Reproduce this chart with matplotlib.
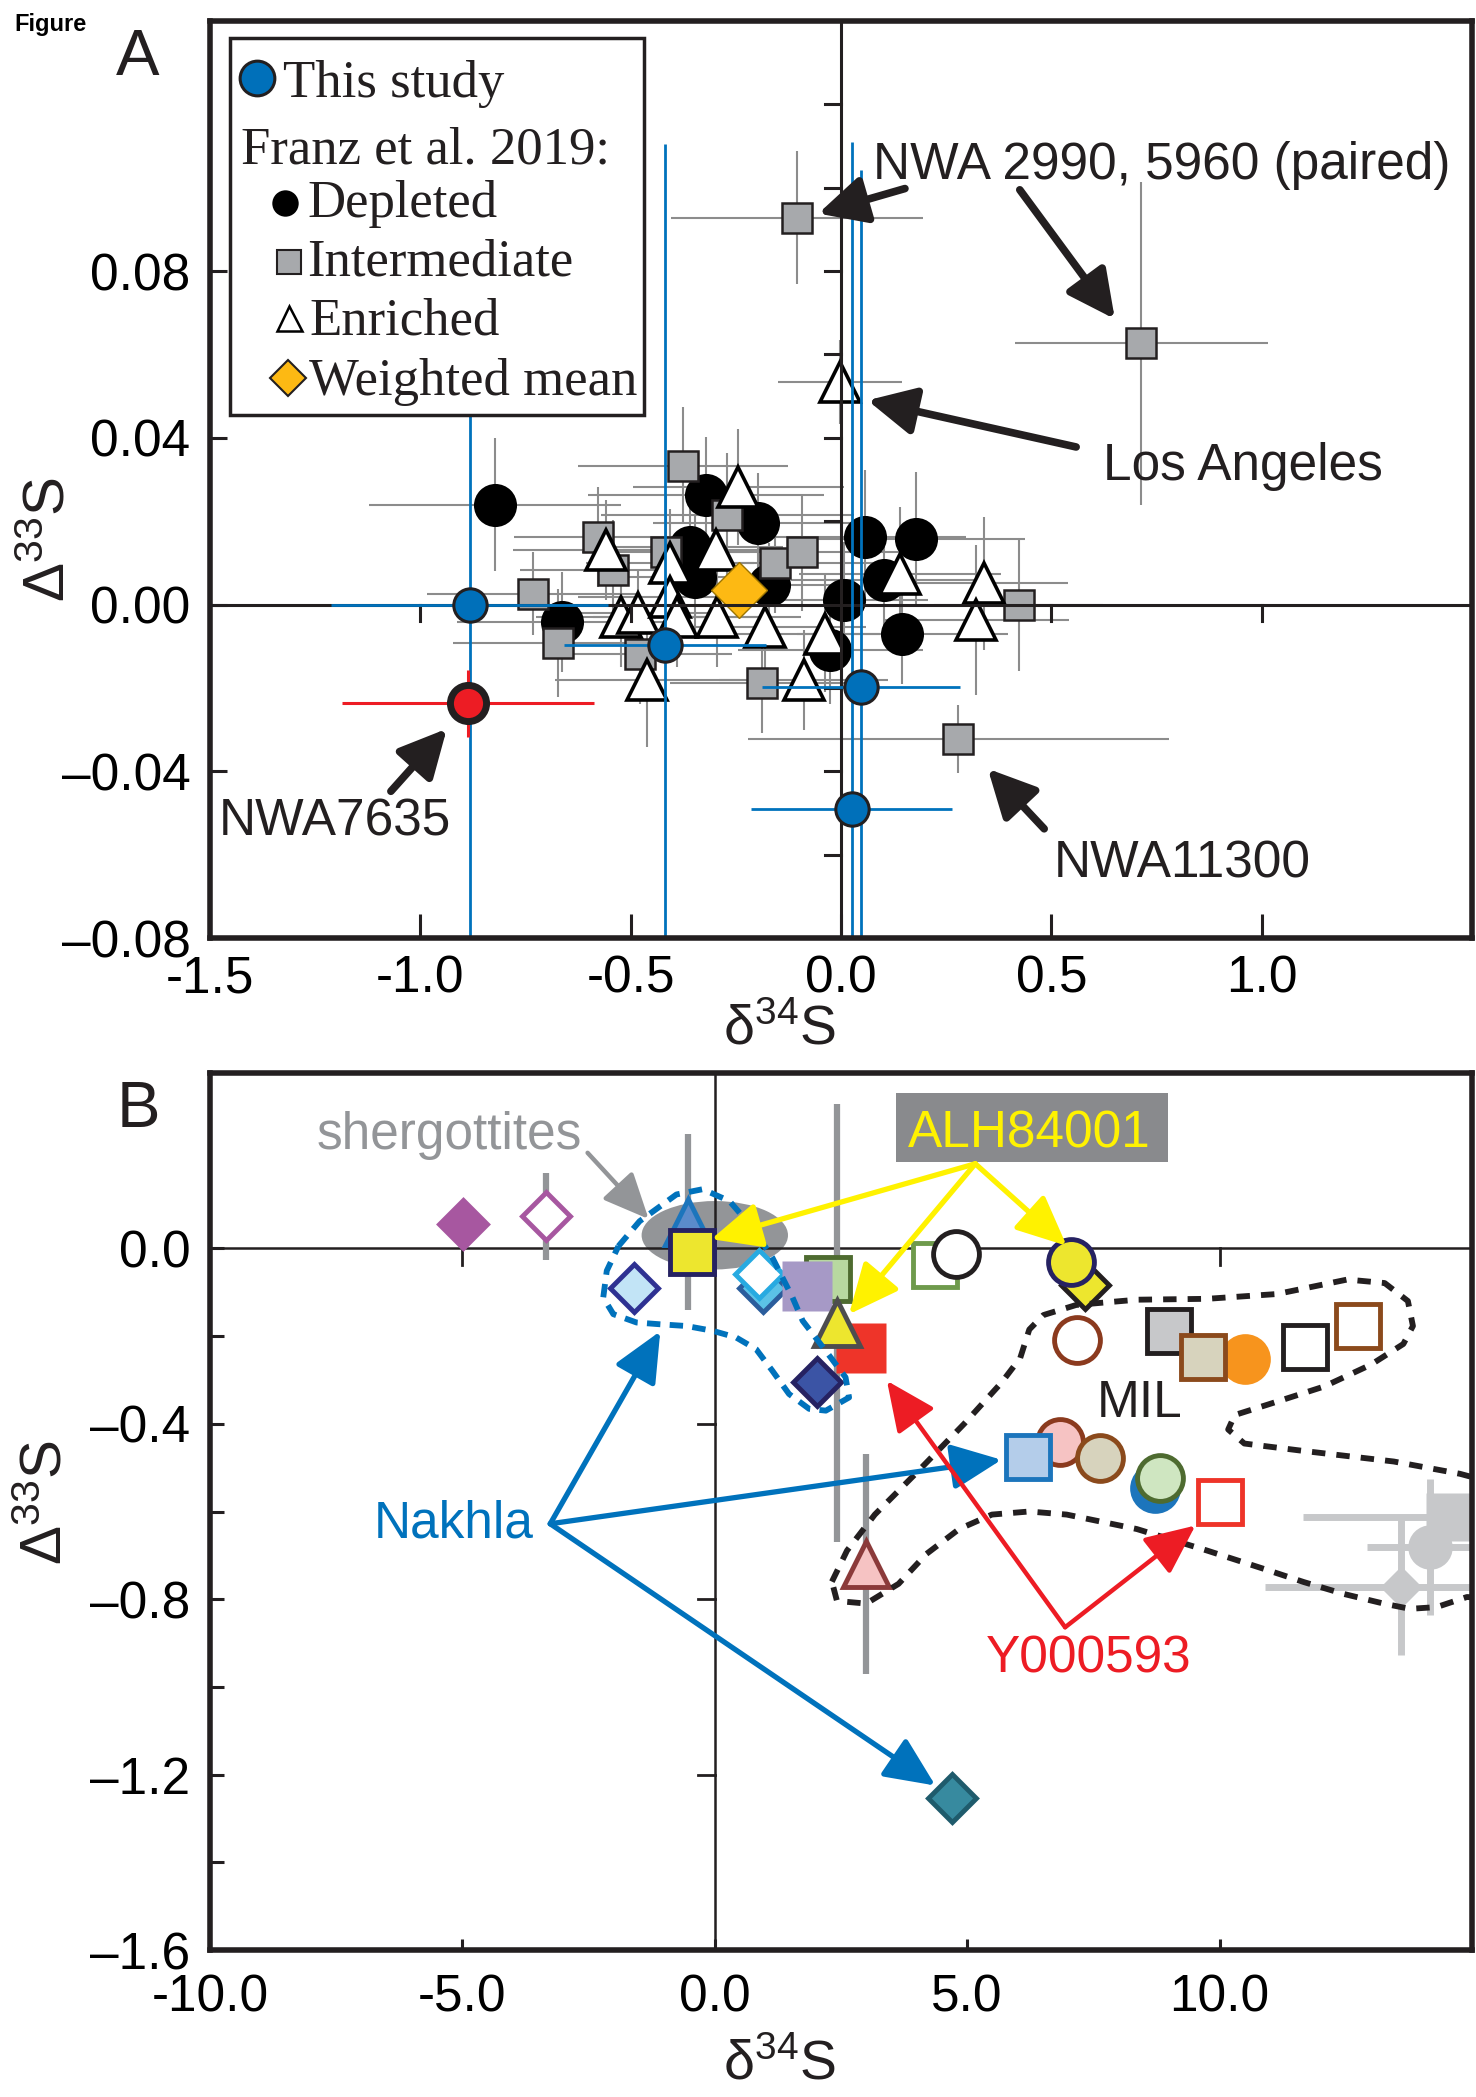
import matplotlib
matplotlib.use("Agg")
import matplotlib.pyplot as plt
from matplotlib.patches import Rectangle, Ellipse

plt.rcParams["font.family"] = ["Liberation Sans", "DejaVu Sans"]
plt.rcParams["mathtext.fontset"] = "custom"
plt.rcParams["mathtext.rm"] = "Liberation Sans"
plt.rcParams["mathtext.it"] = "Liberation Sans:italic"

W, H = 1476, 2097
DARK = "#231F20"
BLUE = "#0072BC"

# ── Panel A data ──────────────────────────────────────────────────────────────
# this study
ts_x = [-0.883, -0.419, 0.048, 0.025]
ts_y = [0.000, -0.0096, -0.0198, -0.049]
ts_xerr = [0.33, 0.24, 0.235, 0.24]
ts_yerr = [0.13, 0.12, 0.124, 0.16]
# NWA7635 (this study, highlighted)
nwa_x, nwa_y = [-0.886], [-0.0237]
nwa_xerr, nwa_yerr = [0.30], [0.008]

# Franz et al. 2019 - depleted
dep_x = [-0.822, -0.663, -0.321, -0.359, -0.346, -0.197, -0.171, 0.057, 0.178, 0.102, 0.006, 0.146, -0.025]
dep_y = [0.024, -0.0042, 0.0262, 0.0138, 0.0067, 0.0195, 0.0048, 0.0163, 0.0157, 0.0058, 0.001, -0.007, -0.0109]
dep_xerr = [0.30, 0.25, 0.28, 0.22, 0.20, 0.25, 0.20, 0.24, 0.26, 0.22, 0.20, 0.25, 0.22]
dep_yerr = [0.016, 0.012, 0.014, 0.012, 0.015, 0.012, 0.010, 0.016, 0.016, 0.012, 0.014, 0.012, 0.013]
# intermediate
int_x = [-0.105, 0.714, 0.279, -0.375, -0.578, -0.543, -0.733, -0.673, -0.416, -0.270, -0.156, -0.092, -0.479, -0.187, 0.422]
int_y = [0.0928, 0.0627, -0.0323, 0.0333, 0.0163, 0.0083, 0.0026, -0.0093, 0.0125, 0.0214, 0.0099, 0.0125, -0.0118, -0.0189, 0.000]
int_xerr = [0.30, 0.30, 0.50, 0.25, 0.20, 0.22, 0.25, 0.25, 0.20, 0.30, 0.25, 0.24, 0.22, 0.22, 0.20]
int_yerr = [0.016, 0.0387, 0.0082, 0.014, 0.012, 0.012, 0.010, 0.013, 0.014, 0.015, 0.012, 0.014, 0.012, 0.012, 0.016]
# enriched
enr_x = [-0.003, -0.559, -0.244, -0.406, -0.298, -0.524, -0.483, -0.406, -0.295, -0.181, -0.390, -0.460, -0.038, -0.089, 0.140, 0.340, 0.321]
enr_y = [0.0534, 0.0131, 0.0282, 0.0099, 0.0131, -0.0029, -0.002, 0.0019, -0.0029, -0.0054, -0.003, -0.0182, -0.007, -0.0182, 0.0074, 0.0051, -0.0038]
enr_xerr = [0.147, 0.22, 0.25, 0.20, 0.22, 0.20, 0.18, 0.22, 0.20, 0.24, 0.20, 0.22, 0.22, 0.20, 0.24, 0.20, 0.22]
enr_yerr = [0.010, 0.012, 0.014, 0.013, 0.012, 0.012, 0.010, 0.012, 0.012, 0.014, 0.012, 0.016, 0.014, 0.012, 0.016, 0.016, 0.018]
# weighted mean
wm_x, wm_y = [-0.243], [0.0036]

a_xticks = [-1.5, -1.0, -0.5, 0.0, 0.5, 1.0]
a_xlabels = ["-1.5", "-1.0", "-0.5", "0.0", "0.5", "1.0"]
a_yticks = [0.08, 0.04, 0.0, -0.04, -0.08]
a_ylabels = ["0.08", "0.04", "0.00", "\u20130.04", "\u20130.08"]
a_inner_xt = [-1.0, -0.5, 0.5, 1.0]
a_inner_yt = [0.12, 0.10, 0.08, 0.06, 0.04, 0.02, -0.02, -0.04, -0.06]

# ── Panel B data ──────────────────────────────────────────────────────────────
b_x = [-4.99, -3.35, -0.53, -0.46, -1.61, 0.96, 0.88, 2.24, 1.83, 2.90, 2.43, 2.03,
       4.36, 4.78, 7.34, 7.06, 7.18, 9.00, 10.50, 9.68, 11.70, 12.74,
       6.84, 6.20, 7.63, 8.72, 8.82, 10.00, 3.00, 4.70]
b_y = [0.055, 0.073, 0.060, -0.008, -0.091, -0.090, -0.058, -0.070, -0.086, -0.226, -0.170, -0.305,
       -0.037, -0.012, -0.083, -0.030, -0.209, -0.189, -0.253, -0.247, -0.225, -0.177,
       -0.441, -0.475, -0.478, -0.546, -0.523, -0.578, -0.720, -1.254]
b_yerr = [0, 0.10, 0.20, 0, 0, 0, 0, 0, 0, 0, 0.50, 0,
          0, 0, 0, 0, 0, 0, 0, 0, 0, 0,
          0, 0, 0, 0, 0, 0, 0.25, 0]
b_marker = ["D", "D", "^", "s", "D", "D", "D", "s", "s", "s", "^", "D",
            "s", "o", "D", "o", "o", "s", "o", "s", "s", "s",
            "o", "s", "o", "o", "o", "s", "^", "D"]
b_face = ["#A757A0", "white", "#5B8BCB", "#EDE62E", "#C2E4F6", "#5BC2E7", "white", "#B8D8A0", "#A699C6",
          "#EE3429", "#EDE62E", "#3B54A5",
          "white", "white", "#EDE62E", "#EDE62E", "white", "#C7C8CA", "#F7941D", "#D7D3BD", "white", "white",
          "#F6C3C3", "#B4CDEA", "#D7D3BD", "#1C75BC", "#CFE6C1", "white", "#F6C3C3", "#378A9F"]
b_edge = ["#A757A0", "#A757A0", "#1C75BC", "#262262", "#2E3192", "#2B5D9C", "#27AAE1", "#4E6B30", "none",
          "none", "#4D4D4F", "#262262",
          "#6E9A4C", DARK, DARK, "#262262", "#8B3A1E", DARK, "none", "#8B4A1C", DARK, "#8B4A1C",
          "#8B3A1E", "#1C75BC", "#8B4A1C", "none", "#4E6B30", "#EE3429", "#8B3A3A", "#1F5B6C"]

# grey literature points at right edge
g_x = [14.56, 14.17, 13.60]
g_y = [-0.613, -0.682, -0.773]
g_xerr = [2.9, 1.25, 2.7]
g_yerr = [0.0, 0.155, 0.155]
g_marker = ["s", "o", "D"]

# outlined fields
nak_x = [-1.91, -1.49, -0.76, -0.24, 0.29, 0.75, 1.14, 1.54, 1.74, 2.20, 2.59, 2.66, 2.20, 1.87, 1.47,
         1.14, 0.82, 0.42, -0.04, -0.56, -1.09, -1.55, -2.01, -2.21, -2.14, -1.91]
nak_y = [0.005, 0.062, 0.123, 0.135, 0.108, 0.047, -0.021, -0.112, -0.165, -0.234, -0.294, -0.34, -0.37,
         -0.366, -0.332, -0.279, -0.23, -0.203, -0.188, -0.177, -0.173, -0.169, -0.15, -0.112, -0.051, 0.005]
mil_x = [2.32, 2.62, 3.17, 4.01, 4.94, 5.68, 6.05, 6.23, 6.51, 7.16, 8.36, 9.75, 11.14, 12.53, 13.27,
         13.73, 13.83, 13.64, 13.00, 12.07, 10.96, 10.30, 10.17, 10.49, 11.60, 13.45, 14.76, 15.60, 15.60,
         14.90, 14.30, 13.77, 13.25, 12.46, 11.67, 10.88, 9.75, 8.36, 6.97, 6.23, 5.49, 4.84, 4.19, 3.64,
         3.00, 2.42, 2.32]
mil_y = [-0.76, -0.689, -0.607, -0.51, -0.40, -0.306, -0.25, -0.185, -0.152, -0.129, -0.117, -0.115,
         -0.104, -0.071, -0.079, -0.12, -0.177, -0.218, -0.265, -0.315, -0.356, -0.38, -0.413, -0.445,
         -0.461, -0.486, -0.514, -0.54, -0.80, -0.795, -0.818, -0.822, -0.81, -0.788, -0.761, -0.731,
         -0.689, -0.64, -0.607, -0.60, -0.607, -0.64, -0.697, -0.765, -0.81, -0.804, -0.76]

b_xticks = [-10, -5, 0, 5, 10]
b_xlabels = ["-10.0", "-5.0", "0.0", "5.0", "10.0"]
b_yticks = [0.0, -0.4, -0.8, -1.2, -1.6]
b_ylabels = ["0.0", "\u20130.4", "\u20130.8", "\u20131.2", "\u20131.6"]
b_yminor = [-0.2, -0.6, -1.0, -1.4]
b_inner_xt = [-5, 5, 10]
b_inner_yt = [-0.4, -0.8, -1.2]


def arrow(ax, tail, head, color, lw, ms, hl, hw, z=8):
    ax.annotate("", xy=head, xytext=tail, zorder=z,
                arrowprops=dict(arrowstyle=f"-|>,head_length={hl},head_width={hw}",
                                color=color, lw=lw, mutation_scale=ms,
                                shrinkA=0, shrinkB=0))


fig = plt.figure(figsize=(W / 100, H / 100), dpi=100)
axA = fig.add_axes([210 / W, 1 - 938 / H, 1262 / W, 917 / H])
axB = fig.add_axes([210 / W, 1 - 1950 / H, 1262 / W, 877 / H])

for ax in (axA, axB):
    for s in ax.spines.values():
        s.set_linewidth(4)
        s.set_color(DARK)
        s.set_zorder(20)
    ax.tick_params(direction="in", colors=DARK, labelcolor="black", labelsize=37, width=2.2)
    ax.tick_params(which="minor", direction="in", colors=DARK, width=2.2)

# ── Panel A ───────────────────────────────────────────────────────────────────
axA.set_xlim(-1.5, 1.5)
axA.set_ylim(-0.08, 0.14)
axA.set_xticks(a_xticks)
axA.set_xticklabels(a_xlabels)
axA.set_yticks(a_yticks)
axA.set_yticklabels(a_ylabels)
axA.tick_params(axis="x", length=17, pad=12)
axA.tick_params(axis="y", length=12, pad=14)

GREY_EB = "#8C8C8C"
for xs, ys, xe, ye in [(dep_x, dep_y, dep_xerr, dep_yerr),
                       (int_x, int_y, int_xerr, int_yerr),
                       (enr_x, enr_y, enr_xerr, enr_yerr)]:
    axA.errorbar(xs, ys, xerr=xe, yerr=ye, fmt="none", ecolor=GREY_EB, elinewidth=1.5, capsize=0, zorder=2)

axA.plot(dep_x, dep_y, "o", ms=31, mfc="black", mec="none", ls="none", zorder=3)
axA.plot(int_x, int_y, "s", ms=22, mfc="#A7A9AC", mec=DARK, mew=1.8, ls="none", zorder=3.1)
axA.plot(enr_x, enr_y, "^", ms=29, mfc="white", mec="black", mew=2.6, ls="none", zorder=3.2)
axA.plot(wm_x, wm_y, "D", ms=29, mfc="#FDB913", mec="#9C7400", mew=1, ls="none", zorder=3.5)

axA.axhline(0, color=DARK, lw=2.2, zorder=4)
axA.axvline(0, color=DARK, lw=2.2, zorder=4)
for t in a_inner_xt:
    axA.plot([t, t], [0, -0.004], color=DARK, lw=2.2, zorder=4)
for t in a_inner_yt:
    axA.plot([0, -0.038], [t, t], color=DARK, lw=2.2, zorder=4)

axA.errorbar(ts_x, ts_y, xerr=ts_xerr, yerr=ts_yerr, fmt="none", ecolor="#0072BC", elinewidth=2, capsize=0, zorder=4.5)
axA.errorbar(nwa_x, nwa_y, xerr=nwa_xerr, yerr=nwa_yerr, fmt="none", ecolor="#ED1C24", elinewidth=2.2, capsize=0, zorder=4.6)
axA.plot(ts_x, ts_y, "o", ms=24, mfc="#0070BA", mec=DARK, mew=2.2, ls="none", zorder=5)
axA.plot(nwa_x, nwa_y, "o", ms=26, mfc="#ED1C24", mec=DARK, mew=5, ls="none", zorder=5)

# annotations panel A
arrow(axA, (0.152, 0.0998), (-0.054, 0.0938), DARK, 5.5, 32, 0.9, 0.45)
arrow(axA, (0.425, 0.0995), (0.651, 0.0685), DARK, 5.5, 32, 0.9, 0.45)
arrow(axA, (0.559, 0.0378), (0.063, 0.0490), DARK, 5.5, 32, 0.9, 0.45)
arrow(axA, (0.483, -0.0538), (0.349, -0.0394), DARK, 5.5, 32, 0.9, 0.45)
arrow(axA, (-1.07, -0.0448), (-0.937, -0.0298), DARK, 5.5, 32, 0.9, 0.45)
axA.text(0.075, 0.102, "NWA 2990, 5960 (paired)", fontsize=37, ha="left", va="baseline", color=DARK, zorder=9)
axA.text(0.622, 0.0298, "Los Angeles", fontsize=37, ha="left", va="baseline", color=DARK, zorder=9)
axA.text(0.505, -0.0654, "NWA11300", fontsize=37, ha="left", va="baseline", color=DARK, zorder=9)
axA.text(-1.479, -0.0555, "NWA7635", fontsize=37, ha="left", va="baseline", color=DARK, zorder=9)

# legend panel A (drawn by hand to follow the original layout)
T = axA.transAxes
axA.add_patch(Rectangle((0.0158, 0.570), 0.3282, 0.411, transform=T, fc="white", ec=DARK, lw=2.5, zorder=10))
serif = dict(family=["Liberation Serif", "DejaVu Serif"], fontsize=38, va="baseline", ha="left",
             transform=T, zorder=11, color=DARK)
axA.plot([0.0372], [0.938], "o", ms=25, mfc="#0070BA", mec=DARK, mew=2.2, transform=T, clip_on=False, zorder=11)
axA.text(0.0578, 0.917, "This study", **serif)
axA.text(0.0246, 0.845, "Franz et al. 2019:", **serif)
axA.plot([0.0598], [0.8015], "o", ms=19, mfc="black", mec="none", transform=T, clip_on=False, zorder=11)
axA.text(0.0769, 0.786, "Depleted", **serif)
axA.plot([0.0626], [0.7372], "s", ms=17, mfc="#A7A9AC", mec=DARK, mew=1.5, transform=T, clip_on=False, zorder=11)
axA.text(0.0769, 0.723, "Intermediate", **serif)
axA.plot([0.0626], [0.676], "^", ms=18, mfc="white", mec="black", mew=1.8, transform=T, clip_on=False, zorder=11)
axA.text(0.0784, 0.6576, "Enriched", **serif)
axA.plot([0.0618], [0.6107], "D", ms=18, mfc="#FDB913", mec=DARK, mew=1.5, transform=T, clip_on=False, zorder=11)
axA.text(0.0784, 0.592, "Weighted mean", **serif)

# ── Panel B ───────────────────────────────────────────────────────────────────
axB.set_xlim(-10, 15)
axB.set_ylim(-1.6, 0.4)
axB.set_xticks(b_xticks)
axB.set_xticklabels(b_xlabels)
axB.set_yticks(b_yticks)
axB.set_yticklabels(b_ylabels)
axB.set_yticks(b_yminor, minor=True)
axB.tick_params(axis="x", length=8, pad=17)
axB.tick_params(axis="y", which="both", length=10, pad=14)

axB.add_patch(Ellipse((0.0, 0.03), 2.9, 0.156, fc="#939598", ec="none", zorder=2))

axB.axhline(0, color=DARK, lw=1.8, zorder=2.2)
axB.axvline(0, color=DARK, lw=1.8, zorder=2.2)
for t in b_inner_xt:
    axB.plot([t, t], [0, -0.037], color=DARK, lw=2, zorder=2.2)
for t in b_inner_yt:
    axB.plot([0, -0.34], [t, t], color=DARK, lw=2, zorder=2.2)

# grey points at right edge
axB.errorbar(g_x, g_y, xerr=g_xerr, yerr=g_yerr, fmt="none", ecolor="#C7C8CA", elinewidth=5, capsize=0, zorder=2.4)
g_size = {"s": 34, "o": 32, "D": 21}
for x, y, m in zip(g_x, g_y, g_marker):
    axB.plot([x], [y], m, ms=g_size[m], mfc="#C7C8CA", mec="none", zorder=2.45)

ebx = [x for x, e in zip(b_x, b_yerr) if e > 0]
eby = [y for y, e in zip(b_y, b_yerr) if e > 0]
ebe = [e for e in b_yerr if e > 0]
axB.errorbar(ebx, eby, yerr=ebe, fmt="none", ecolor="#939598", elinewidth=4.5, capsize=0, zorder=2.5)

b_size = {"o": 33, "s": 32, "^": 33, "D": 24}
for i, (x, y, m, fc, ec) in enumerate(zip(b_x, b_y, b_marker, b_face, b_edge)):
    ms = b_size[m] + (3.5 if ec == "none" else 0)
    axB.plot([x], [y], m, ms=ms, mfc=fc, mec=ec, mew=3.5, ls="none", zorder=3 + i * 0.01)

axB.plot(nak_x, nak_y, color=BLUE, lw=4.2, ls=(0, (2.3, 1.6)), zorder=5)
axB.plot(mil_x, mil_y, color=DARK, lw=4.2, ls=(0, (2.3, 1.9)), zorder=5)

# labels and arrows panel B
axB.text(-7.88, 0.226, "shergottites", fontsize=37, color="#939598", ha="left", va="baseline", zorder=8)
arrow(axB, (-2.52, 0.218), (-1.31, 0.067), "#939598", 3.2, 28, 1.0, 0.45)

axB.add_patch(Rectangle((3.58, 0.197), 5.39, 0.157, fc="#898A8D", ec="none", zorder=7))
axB.text(3.82, 0.2305, "ALH84001", fontsize=37, color="#FFF200", ha="left", va="baseline", zorder=8)
for head in [(-0.07, 0.021), (2.66, -0.15), (6.97, 0.006)]:
    arrow(axB, (5.16, 0.193), head, "#FFF200", 3.8, 28, 1.1, 0.5)

axB.text(-6.75, -0.66, "Nakhla", fontsize=37, color=BLUE, ha="left", va="baseline", zorder=8)
for head in [(-1.08, -0.189), (5.68, -0.482), (4.37, -1.225)]:
    arrow(axB, (-3.26, -0.628), head, BLUE, 3.8, 28, 1.1, 0.5)

axB.text(5.36, -0.967, "Y000593", fontsize=37, color="#ED1C24", ha="left", va="baseline", zorder=8)
for head in [(3.41, -0.302), (9.52, -0.632)]:
    arrow(axB, (6.94, -0.864), head, "#ED1C24", 3.2, 28, 1.1, 0.5)

axB.text(7.57, -0.384, "MIL", fontsize=37, color=DARK, ha="left", va="baseline", zorder=8)

# ── figure-level text ────────────────────────────────────────────────────────
fig.text(14 / W, 1 - 13 / H, "Figure", fontsize=17, weight="bold", ha="left", va="top")
fig.text(116 / W, 1 - 75 / H, "A", fontsize=47, ha="left", va="baseline", color=DARK)
fig.text(117 / W, 1 - 1127 / H, "B", fontsize=47, ha="left", va="baseline", color=DARK)
fig.text(50 / W, 1 - 540 / H, "\u0394$^{33}$S", fontsize=42, rotation=90, ha="center", va="center", color=DARK)
fig.text(46 / W, 1 - 1503 / H, "\u0394$^{33}$S", fontsize=42, rotation=90, ha="center", va="center", color=DARK)
fig.text(779 / W, 1 - 1030 / H, "\u03b4$^{34}$S", fontsize=40, ha="center", va="center", color=DARK)
fig.text(779 / W, 1 - 2066 / H, "\u03b4$^{34}$S", fontsize=40, ha="center", va="center", color=DARK)

fig.savefig("out.png", dpi=100)
